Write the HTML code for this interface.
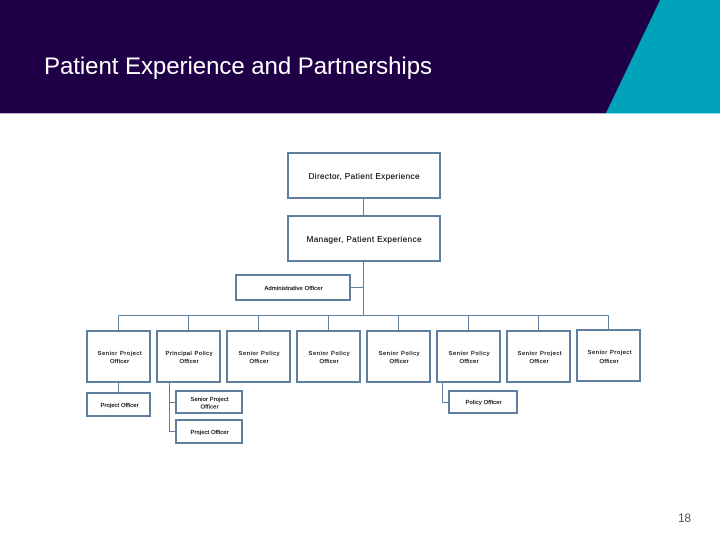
<!DOCTYPE html>
<html><head><meta charset="utf-8"><style>
html,body{margin:0;padding:0;background:#fff}
svg{display:block}
text{font-family:"Liberation Sans",sans-serif;fill:#000;text-anchor:middle}
.b{fill:#fff;stroke:#5f7f9f;stroke-width:2}
.l{fill:none;stroke:#5f7f9f;stroke-width:1}
.s{font-size:5.8px;stroke:#000;stroke-width:.16px}
.m{font-size:8.2px;stroke:#000;stroke-width:.1px}
</style></head><body>
<svg width="720" height="540" viewBox="0 0 720 540" xmlns="http://www.w3.org/2000/svg">
<rect width="720" height="540" fill="#fff"/>
<rect width="720" height="113" fill="#1f0047"/>
<polygon points="660,0 720,0 720,113 606,113" fill="#00a3b9"/>
<rect y="113" width="606" height="1" fill="#b9aeca"/>
<rect x="606" y="113" width="114" height="1" fill="#8fdbe5"/>
<text x="44" y="74" style="text-anchor:start;font-size:24px;fill:#fff" textLength="388" lengthAdjust="spacing">Patient Experience and Partnerships</text>
<text x="684.500" y="522" style="font-size:12px;fill:#555" textLength="13">18</text>

<path class="l" d="M363.5 198V216M363.5 261V315.5M350 287.5H363.5M118.5 315.5H608.5M118.5 315.5V331M188.5 315.5V331M258.5 315.5V331M328.5 315.5V331M398.5 315.5V331M468.5 315.5V331M538.5 315.5V331M608.5 315.5V330M118.5 382V393M169.5 382V431.5H176M169.5 402.5H176M442.5 382V402.5H449"/>

<rect class="b" x="288" y="153" width="152" height="45"/>
<rect class="b" x="288" y="216" width="152" height="45"/>
<rect class="b" x="236" y="275" width="114" height="25"/>
<rect class="b" x="87" y="331" width="63" height="51"/>
<rect class="b" x="157" y="331" width="63" height="51"/>
<rect class="b" x="227" y="331" width="63" height="51"/>
<rect class="b" x="297" y="331" width="63" height="51"/>
<rect class="b" x="367" y="331" width="63" height="51"/>
<rect class="b" x="437" y="331" width="63" height="51"/>
<rect class="b" x="507" y="331" width="63" height="51"/>
<rect class="b" x="577" y="330" width="63" height="51"/>
<rect class="b" x="87" y="393" width="63" height="23"/>
<rect class="b" x="176" y="391" width="66" height="22"/>
<rect class="b" x="176" y="420" width="66" height="23"/>
<rect class="b" x="449" y="391" width="68" height="22"/>

<text class="m" x="364" y="179" textLength="111" lengthAdjust="spacing">Director, Patient Experience</text>
<text class="m" x="364" y="242" textLength="115" lengthAdjust="spacing">Manager, Patient Experience</text>
<text class="s" x="293.500" y="290" textLength="58" lengthAdjust="spacing">Administrative Officer</text>

<text class="s" x="119.500" y="355" textLength="44" lengthAdjust="spacing">Senior Project</text>
<text class="s" x="119.500" y="363" textLength="19" lengthAdjust="spacing">Officer</text>
<text class="s" x="189" y="355" textLength="47" lengthAdjust="spacing">Principal Policy</text>
<text class="s" x="189" y="363" textLength="19" lengthAdjust="spacing">Officer</text>
<text class="s" x="259" y="355" textLength="41" lengthAdjust="spacing">Senior Policy</text>
<text class="s" x="259" y="363" textLength="19" lengthAdjust="spacing">Officer</text>
<text class="s" x="329" y="355" textLength="41" lengthAdjust="spacing">Senior Policy</text>
<text class="s" x="329" y="363" textLength="19" lengthAdjust="spacing">Officer</text>
<text class="s" x="399" y="355" textLength="41" lengthAdjust="spacing">Senior Policy</text>
<text class="s" x="399" y="363" textLength="19" lengthAdjust="spacing">Officer</text>
<text class="s" x="469" y="355" textLength="41" lengthAdjust="spacing">Senior Policy</text>
<text class="s" x="469" y="363" textLength="19" lengthAdjust="spacing">Officer</text>
<text class="s" x="539.500" y="355" textLength="44" lengthAdjust="spacing">Senior Project</text>
<text class="s" x="539" y="363" textLength="19" lengthAdjust="spacing">Officer</text>
<text class="s" x="609.500" y="354" textLength="44" lengthAdjust="spacing">Senior Project</text>
<text class="s" x="609" y="363" textLength="19" lengthAdjust="spacing">Officer</text>

<text class="s" x="119.500" y="407" textLength="38" lengthAdjust="spacing">Project Officer</text>
<text class="s" x="209.500" y="401" textLength="38" lengthAdjust="spacing">Senior Project</text>
<text class="s" x="209.500" y="408.500" textLength="18" lengthAdjust="spacing">Officer</text>
<text class="s" x="209.500" y="434" textLength="38" lengthAdjust="spacing">Project Officer</text>
<text class="s" x="483.500" y="404" textLength="36" lengthAdjust="spacing">Policy Officer</text>
</svg>
</body></html>
